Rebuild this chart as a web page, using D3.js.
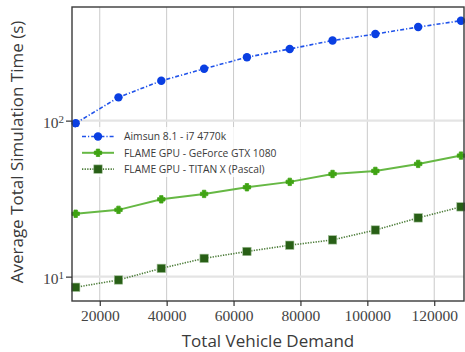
<!DOCTYPE html>
<html>
<head>
<meta charset="utf-8">
<script src="https://cdn.jsdelivr.net/npm/d3@7"></script>
<style>
  html, body { margin: 0; padding: 0; background: #fff; }
  svg { display: block; }
</style>
</head>
<body>
<svg id="chart" width="465" height="352"></svg>
<script>
// Total vehicle demand (x) and average simulation time in seconds (y, log scale)
const demand = [12800, 25600, 38400, 51200, 64000, 76800, 89600, 102400, 115200, 128000];
const aimsun = [96.2, 141, 180, 215, 255, 288, 326, 359, 398, 437];
const gtx1080 = [25.3, 26.8, 31.3, 33.9, 37.4, 40.5, 45.5, 47.6, 52.8, 59.7];
const titanX = [8.55, 9.52, 11.3, 13.1, 14.5, 15.9, 17.2, 19.9, 23.8, 28.0];
const xTicks = [20000, 40000, 60000, 80000, 100000, 120000];
const yTicks = [10, 100];
const seriesNames = ["Aimsun 8.1 - i7 4770k", "FLAME GPU - GeForce GTX 1080", "FLAME GPU - TITAN X (Pascal)"];

const W = 465, H = 352;
const m = { left: 72, right: 1, top: 7, bottom: 51 };
const svg = d3.select("#chart");

const x = d3.scaleLinear().domain([11700, 128900]).range([m.left, W - m.right]);
const y = d3.scaleLog().domain([6.98, 535]).range([H - m.bottom, m.top]);

const styles = [
  { values: aimsun, color: "#0a3fe2", lineColor: "#1f52ea", width: 1.6, dash: "4,2,1.2,2", marker: "circle" },
  { values: gtx1080, color: "#3fa313", lineColor: "#66b844", width: 2, dash: null, marker: "plus" },
  { values: titanX, color: "#285f16", lineColor: "#4d7d3a", width: 1.6, dash: "1.3,1.3", marker: "square" }
];

// Grid
const grid = svg.append("g");
grid.selectAll("line.vx").data(xTicks).join("line")
  .attr("x1", d => x(d)).attr("x2", d => x(d))
  .attr("y1", m.top).attr("y2", H - m.bottom)
  .attr("stroke", "#cacaca").attr("stroke-width", 1);
grid.selectAll("line.hy").data(yTicks).join("line")
  .attr("x1", m.left).attr("x2", W - m.right)
  .attr("y1", d => y(d)).attr("y2", d => y(d))
  .attr("stroke", "#e4e4e4").attr("stroke-width", 2.2);

// Markers
function drawMarker(g, type, color, cx, cy) {
  if (type === "circle") {
    g.append("circle").attr("cx", cx).attr("cy", cy).attr("r", 4.2).attr("fill", color);
  } else if (type === "square") {
    g.append("rect").attr("x", cx - 4.2).attr("y", cy - 4.2).attr("width", 8.4).attr("height", 8.4)
      .attr("fill", color).attr("stroke", "#9fbf95").attr("stroke-width", 0.6);
  } else {
    const a = 3.7, b = 1.7;
    const p = [[-b,-a],[b,-a],[b,-b],[a,-b],[a,b],[b,b],[b,a],[-b,a],[-b,b],[-a,b],[-a,-b],[-b,-b]];
    g.append("path").attr("d", "M" + p.map(q => [cx + q[0], cy + q[1]].join(",")).join("L") + "Z")
      .attr("fill", color).attr("stroke", color).attr("stroke-width", 0.8).attr("stroke-linejoin", "round");
  }
}

const plot = svg.append("g");
styles.forEach(s => {
  const pts = demand.map((d, i) => [x(d), y(s.values[i])]);
  plot.append("path")
    .attr("d", d3.line()(pts))
    .attr("fill", "none").attr("stroke", s.lineColor).attr("stroke-width", s.width)
    .attr("stroke-dasharray", s.dash);
  const mg = plot.append("g");
  pts.forEach(p => drawMarker(mg, s.marker, s.color, p[0], p[1]));
});

// Frame
svg.append("rect").attr("x", m.left).attr("y", m.top)
  .attr("width", W - m.right - m.left).attr("height", H - m.bottom - m.top)
  .attr("fill", "none").attr("stroke", "#3a3a3a").attr("stroke-width", 1.4);

// X axis
const xAxis = svg.append("g").attr("transform", `translate(0,${H - m.bottom})`)
  .call(d3.axisBottom(x).tickValues(xTicks).tickFormat(d3.format("d")).tickSize(5).tickPadding(4));
xAxis.select(".domain").remove();
xAxis.selectAll(".tick line").attr("stroke", "#333").attr("stroke-width", 1.2);
xAxis.selectAll(".tick text").attr("fill", "#444")
  .style("font-family", "'Liberation Serif', serif").style("font-size", "15.5px");

// Y axis (powers of ten)
const yAxis = svg.append("g").attr("transform", `translate(${m.left},0)`)
  .call(d3.axisLeft(y).tickValues(yTicks).tickFormat("").tickSize(6));
yAxis.select(".domain").remove();
yAxis.selectAll(".tick line").attr("stroke", "#333").attr("stroke-width", 1.2);
yAxis.selectAll(".tick").each(function(d) {
  const t = d3.select(this).append("text").attr("x", -8).attr("dy", "0.42em")
    .attr("text-anchor", "end").attr("fill", "#444")
    .style("font-family", "'Liberation Serif', serif").style("font-size", "15.5px");
  t.append("tspan").text("10");
  t.append("tspan").attr("dy", "-0.45em").style("font-size", "11px").text(Math.round(Math.log10(d)));
});

// Axis titles
svg.append("text").attr("x", (m.left + W - m.right) / 2).attr("y", 347)
  .attr("text-anchor", "middle").attr("fill", "#3a3a3a")
  .style("font-family", "'Open Sans', sans-serif").style("font-size", "17px")
  .text("Total Vehicle Demand");
svg.append("text").attr("transform", "translate(23,152) rotate(-90)")
  .attr("text-anchor", "middle").attr("fill", "#3a3a3a")
  .style("font-family", "'Open Sans', sans-serif").style("font-size", "17px")
  .text("Average Total Simulation Time (s)");

// Legend
const lg = svg.append("g");
lg.append("rect").attr("x", 76).attr("y", 127).attr("width", 228).attr("height", 50)
  .attr("fill", "#fff").attr("fill-opacity", 0.8);
styles.forEach((s, i) => {
  const ly = 136.5 + i * 16.3;
  lg.append("line").attr("x1", 82).attr("x2", 114).attr("y1", ly).attr("y2", ly)
    .attr("stroke", s.lineColor).attr("stroke-width", s.width).attr("stroke-dasharray", s.dash);
  drawMarker(lg, s.marker, s.color, 98, ly);
  lg.append("text").attr("x", 124).attr("y", ly).attr("dy", "0.36em")
    .attr("fill", "#3a3a3a")
    .style("font-family", "'Open Sans', sans-serif").style("font-size", "10.3px")
    .text(seriesNames[i]);
});
</script>
</body>
</html>
